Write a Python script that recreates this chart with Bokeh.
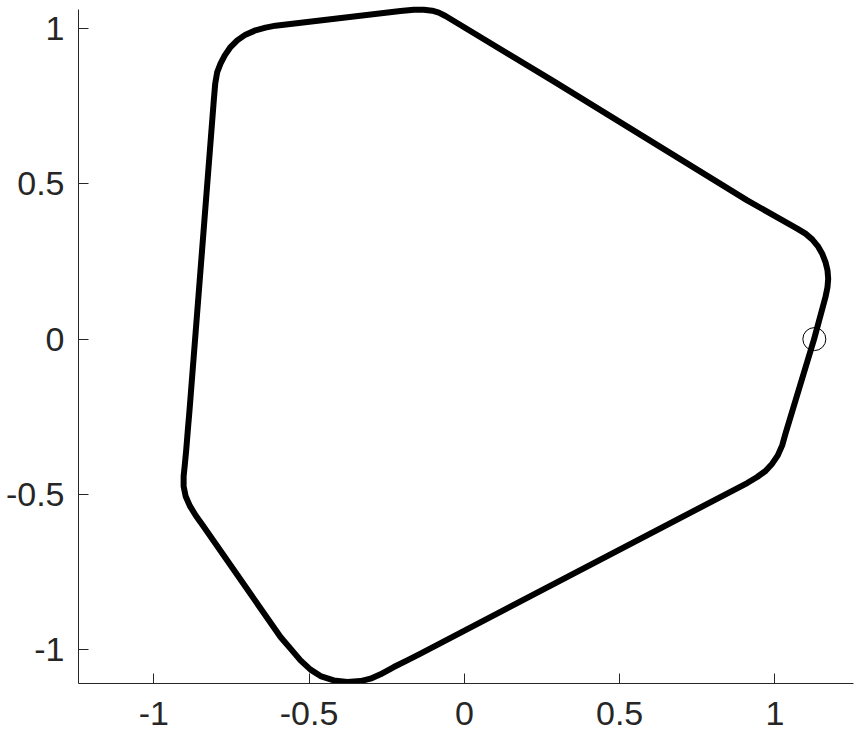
from bokeh.plotting import figure
from bokeh.models import Range1d, FixedTicker
from bokeh.embed import file_html
from bokeh.resources import INLINE

# closed curve
curve_x = [1.1262, 1.1629, 1.1694, 1.1716, 1.1694, 1.1629, 1.1523, 1.1381, 1.1201,
           1.0985, 1.0718, 0.9108, 0.2880, -0.0340, -0.0607, -0.0823, -0.1035,
           -0.1306, -0.1628, -0.2056, -0.6081, -0.6403, -0.6725, -0.7047, -0.7314,
           -0.7530, -0.7714, -0.7852, -0.7958, -0.8023, -0.8068,
           -0.8850, -0.8905, -0.8957, -0.9005, -0.9040, -0.9040, -0.8975, -0.8840,
           -0.8650, -0.8420,
           -0.5920, -0.5598, -0.5276, -0.4954, -0.4632, -0.4204, -0.3772, -0.3344,
           -0.3022, -0.2700, -0.2272, -0.1840, -0.1412,
           0.9108, 0.9430, 0.9697, 0.9913, 1.0093, 1.0235, 1.0341, 1.1262]
curve_y = [0.0, 0.1354, 0.1676, 0.1947, 0.2214, 0.2481, 0.2752, 0.2996, 0.3212,
           0.3396, 0.3557, 0.4468, 0.8300, 1.0242, 1.0403, 1.0512, 1.0576,
           1.0609, 1.0609, 1.0563, 1.0093, 1.0029, 0.9942, 0.9804, 0.9620,
           0.9404, 0.9137, 0.8870, 0.8599, 0.8226, 0.7688,
           -0.2294, -0.2938, -0.3582, -0.4080, -0.4420, -0.4740, -0.5060, -0.5370,
           -0.5680, -0.6000,
           -0.9594, -0.9968, -1.0345, -1.0644, -1.0850, -1.0989, -1.1043, -1.1011,
           -1.0934, -1.0795, -1.0560, -1.0345, -1.0129,
           -0.4635, -0.4442, -0.4249, -0.4011, -0.3743, -0.3421, -0.3045, 0.0]

marker_x = [1.127]
marker_y = [0.0]

ticks = [-1, -0.5, 0, 0.5, 1]
tick_labels = ["-1", "-0.5", "0", "0.5", "1"]

W, H = 855, 735
TOP, FRAME_H = 3, 680
p = figure(width=W, height=H, output_backend="svg", toolbar_location=None,
           min_border_left=78, min_border_right=2, min_border_top=TOP,
           min_border_bottom=H - TOP - FRAME_H)
p.x_range = Range1d(-1.2425, 1.2531)
p.y_range = Range1d(-1.109, 1.0807)

p.line(curve_x, curve_y, line_color="black", line_width=6,
       line_join="round", line_cap="round")
p.scatter(marker_x, marker_y, marker="circle", size=23, fill_color=None,
          line_color="black", line_width=1)

p.xgrid.visible = False
p.ygrid.visible = False
p.outline_line_color = None
p.background_fill_color = "white"
p.border_fill_color = "white"

labels = dict(zip(ticks, tick_labels))
for ax in (p.xaxis[0], p.yaxis[0]):
    ax.ticker = FixedTicker(ticks=ticks)
    ax.major_label_overrides = labels
    ax.minor_tick_line_color = None
    ax.major_tick_in = 10
    ax.major_tick_out = 0
    ax.axis_line_color = "#262626"
    ax.major_tick_line_color = "#262626"
    ax.axis_line_width = 1
    ax.major_label_text_font = "Liberation Sans"
    ax.major_label_text_font_size = "34px"
    ax.major_label_text_color = "#262626"

p.xaxis[0].major_label_standoff = 18
p.yaxis[0].major_label_standoff = 14
p.yaxis[0].bounds = (-1.109, 1.061)

open("out.html", "w").write(file_html(p, INLINE))
